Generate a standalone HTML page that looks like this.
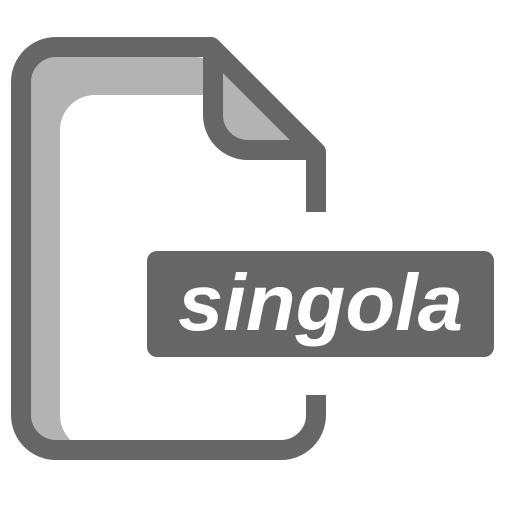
<!DOCTYPE html>
<html><head><meta charset="utf-8"><style>html,body{margin:0;padding:0;background:#fff}svg{display:block}</style></head>
<body>
<svg width="512" height="512" viewBox="0 0 512 512">
  <rect x="30" y="57" width="190" height="395" rx="25" fill="#b3b3b3"/>
  <rect x="60" y="95" width="255" height="355" rx="35" fill="#fff"/>
  <polygon points="218,55 305,142 218,142" fill="#b3b3b3"/>
  <path d="M316,212 V152 L211,47 H56 A35,35 0 0 0 21,82 V415 A35,35 0 0 0 56,450 H281 A35,35 0 0 0 316,415 V395" fill="none" stroke="#666" stroke-width="20" stroke-linejoin="round"/>
  <path d="M213,47 V115 A35,35 0 0 0 248,150 H316" fill="none" stroke="#666" stroke-width="20"/>
  <rect x="147" y="251" width="347" height="106" rx="10" fill="#666"/>
  <text x="178" y="330" font-family="Liberation Sans, sans-serif" font-weight="bold" font-style="italic" font-size="80" fill="#fff" textLength="285" lengthAdjust="spacingAndGlyphs">singola</text>
</svg>
</body></html>
